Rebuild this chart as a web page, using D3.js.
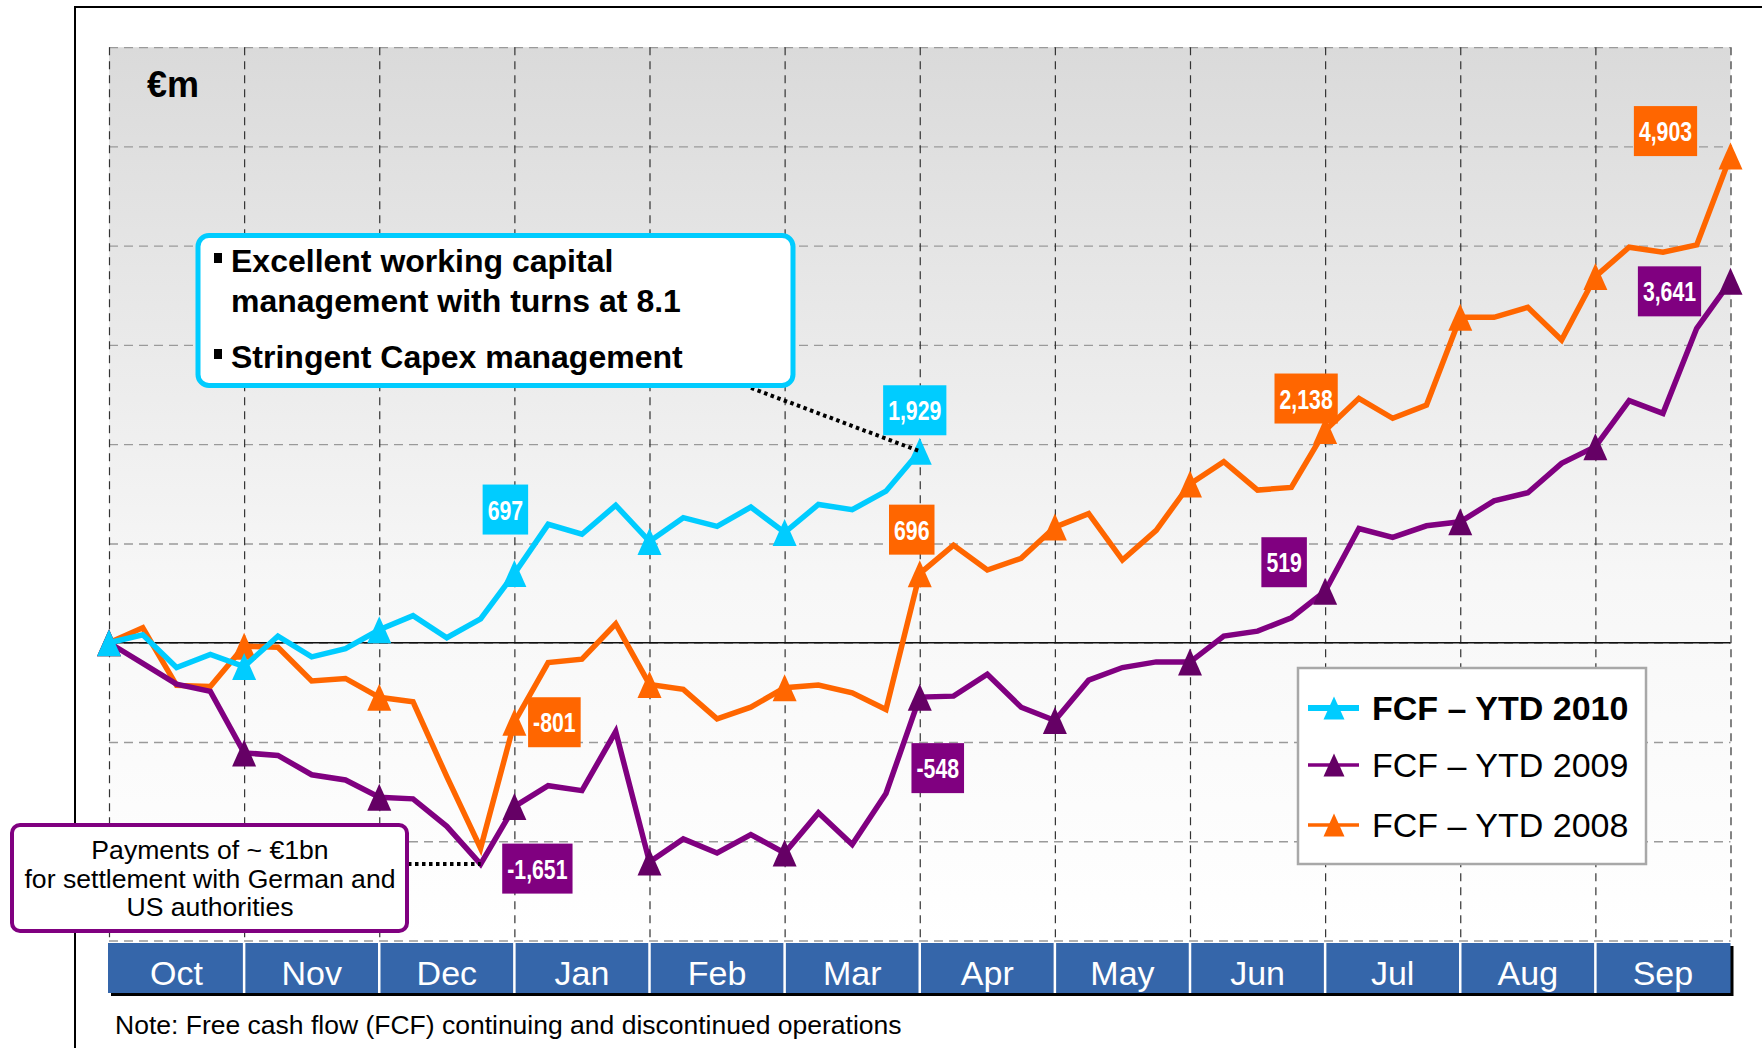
<!DOCTYPE html>
<html>
<head>
<meta charset="utf-8">
<script src="https://cdn.jsdelivr.net/npm/d3@7/dist/d3.min.js"></script>
<style>
  body { margin: 0; background: #fff; }
  svg { display: block; font-family: "Liberation Sans", Arial, sans-serif; }
</style>
</head>
<body>
<div id="chart"></div>
<script>
// ---- data (EUR m, year-to-date free cash flow, ~weekly points, 4 per month) ----
const months = ['Oct', 'Nov', 'Dec', 'Jan', 'Feb', 'Mar', 'Apr', 'May', 'Jun', 'Jul', 'Aug', 'Sep'];

const fcf2010 = [0, 80, -250, -117, -240, 67, -143, -60, 130, 273, 50, 240,
    697, 1193, 1093, 1385, 1020, 1260, 1173, 1367, 1110, 1393, 1340, 1527, 1929];

const fcf2009 = [0, -207, -417, -490, -1110, -1135, -1330, -1383, -1557, -1573, -1850, -2230,
    -1651, -1440, -1490, -895, -2210, -1976, -2118, -1933, -2118, -1714, -2034, -1519,
    -548, -538, -317, -650, -783, -377, -250, -193, -195, 67, 117, 252,
    519, 1151, 1061, 1178, 1218, 1430, 1511, 1807, 1975, 2439, 2311, 3168, 3641];

const fcf2008 = [0, 150, -430, -440, -35, -45, -385, -360, -550, -595, -1350, -2070,
    -801, -200, -165, 190, -420, -470, -766, -649, -454, -427, -504, -672,
    696, 983, 733, 850, 1165, 1300, 833, 1133, 1600, 1824, 1538, 1565,
    2138, 2462, 2261, 2395, 3279, 3279, 3380, 3050, 3689, 3985, 3934, 4008, 4903];

const seriesNames = ['FCF – YTD 2010', 'FCF – YTD 2009', 'FCF – YTD 2008'];
const yTicks = [-3000, -2000, -1000, 0, 1000, 2000, 3000, 4000, 5000, 6000];

// which points carry a value box: series (0=2010,1=2009,2=2008) and point index
const labelSeries = [0, 0, 2, 2, 1, 1, 1, 2, 2, 1];
const labelIndex = [24, 12, 24, 12, 12, 24, 36, 36, 48, 48];

const noteText = 'Note: Free cash flow (FCF) continuing and discontinued operations';
const calloutTop = ['Excellent working capital', 'management with turns at 8.1', 'Stringent Capex management'];
const calloutBottom = ['Payments of ~ €1bn', 'for settlement with German and', 'US authorities'];

// ---- layout ----
const width = 1762;
const height = 1048;
const plotLeft = 109, plotRight = 1730.5, plotTop = 47.2, plotBottom = 940.5;
const colors = ['#00ccff', '#800080', '#ff6600'];
const markerColors = ['#00ccff', '#650065', '#ff6600'];
// offsets of value boxes from their point (same order as labelIndex)
const labelOffset = [[-5, -41], [-9, -64], [-8, -44], [40, 0], [23, 62], [18, 71], [-41, -29], [-19, -32], [-65, -25], [-61, 10]];

const allSeries = [fcf2010, fcf2009, fcf2008];

let x = d3.scaleLinear().domain([0, 48]).range([plotLeft, plotRight]);
let y = d3.scaleLinear().domain([-3000, 6000]).range([plotBottom, plotTop]);
let xMonth = d3.scaleBand().domain(months).range([plotLeft, plotRight]);

let svg = d3.select('#chart').append('svg')
    .attr('width', width)
    .attr('height', height);

let defs = svg.append('defs');
let grad = defs.append('linearGradient')
    .attr('id', 'bg').attr('x1', 0).attr('y1', 0).attr('x2', 0).attr('y2', 1);
grad.append('stop').attr('offset', '0%').attr('stop-color', '#dadada');
grad.append('stop').attr('offset', '60%').attr('stop-color', '#f7f7f7');
grad.append('stop').attr('offset', '100%').attr('stop-color', '#ffffff');

// outer frame (only top and left edges are inside the picture)
svg.append('path')
    .attr('d', `M75,${height}V7H${width}`)
    .attr('fill', 'none')
    .attr('stroke', '#000')
    .attr('stroke-width', 2);

// plot background
svg.append('rect')
    .attr('x', plotLeft).attr('y', plotTop)
    .attr('width', plotRight - plotLeft).attr('height', plotBottom - plotTop)
    .attr('fill', 'url(#bg)');

// horizontal gridlines
let yGrid = svg.append('g')
    .attr('transform', `translate(${plotLeft},0)`)
    .call(d3.axisLeft(y).tickValues(yTicks).tickSize(-(plotRight - plotLeft)).tickFormat(''));
yGrid.select('.domain').remove();
yGrid.selectAll('line')
    .attr('stroke', '#9a9a9a')
    .attr('stroke-width', 1.3)
    .attr('stroke-dasharray', '9,6');

// vertical gridlines at month starts
let xGrid = svg.append('g')
    .attr('transform', `translate(0,${plotTop})`)
    .call(d3.axisBottom(x).tickValues(d3.range(0, 49, 4)).tickSize(plotBottom - plotTop).tickFormat(''));
xGrid.select('.domain').remove();
xGrid.selectAll('line')
    .attr('stroke', '#333')
    .attr('stroke-width', 1.2)
    .attr('stroke-dasharray', '8,6');

// zero line
svg.append('line')
    .attr('x1', plotLeft).attr('x2', plotRight)
    .attr('y1', y(0)).attr('y2', y(0))
    .attr('stroke', '#111')
    .attr('stroke-width', 1.3);

// month band
svg.append('rect')
    .attr('x', plotLeft + 2).attr('y', 946)
    .attr('width', plotRight - plotLeft + 1).attr('height', 50)
    .attr('fill', '#000');
svg.append('rect')
    .attr('x', plotLeft - 1).attr('y', 943)
    .attr('width', plotRight - plotLeft + 1).attr('height', 50)
    .attr('fill', '#3566aa');
svg.append('g').selectAll('line')
    .data(d3.range(4, 48, 4))
    .enter().append('line')
    .attr('x1', d => x(d)).attr('x2', d => x(d))
    .attr('y1', 943).attr('y2', 993)
    .attr('stroke', '#fff')
    .attr('stroke-width', 2.5);
svg.append('g').selectAll('text')
    .data(months)
    .enter().append('text')
    .attr('x', d => xMonth(d) + xMonth.bandwidth() / 2)
    .attr('y', 985)
    .attr('text-anchor', 'middle')
    .attr('fill', '#fff')
    .style('font-size', '34px')
    .text(d => d);

// note
svg.append('text')
    .attr('x', 115).attr('y', 1034)
    .style('font-size', '26.5px')
    .attr('fill', '#000')
    .text(noteText);

// unit
svg.append('text')
    .attr('x', 147).attr('y', 97)
    .style('font-size', '36px')
    .style('font-weight', 'bold')
    .text('€m');

function tri(w, h) {
    return `M0,${-h / 2}L${w / 2},${h / 2}L${-w / 2},${h / 2}Z`;
}

let line = d3.line()
    .x((d, i) => x(i))
    .y(d => y(d));

// draw 2008 first, 2010 on top
[2, 1, 0].forEach(s => {
    let data = allSeries[s];
    let g = svg.append('g');
    g.append('path')
        .datum(data)
        .attr('d', line)
        .attr('fill', 'none')
        .attr('stroke', colors[s])
        .attr('stroke-width', 5.5)
        .attr('stroke-linejoin', 'miter');
    g.selectAll('path.mark')
        .data(data.map((v, i) => [i, v]).filter(d => d[0] % 4 === 0))
        .enter().append('path')
        .attr('class', 'mark')
        .attr('d', tri(24, 27))
        .attr('transform', d => `translate(${x(d[0])},${y(d[1])})`)
        .attr('fill', markerColors[s]);
});

// callout (top)
svg.append('line')
    .attr('x1', 751).attr('y1', 388)
    .attr('x2', x(24)).attr('y2', y(fcf2010[24]))
    .attr('stroke', '#000').attr('stroke-width', 4)
    .attr('stroke-dasharray', '3.5,3.5');
svg.append('rect')
    .attr('x', 198).attr('y', 235.5)
    .attr('width', 595).attr('height', 150)
    .attr('rx', 11)
    .attr('fill', '#fff')
    .attr('stroke', '#00ccff')
    .attr('stroke-width', 5);
let calloutY = [272, 312, 368];
svg.append('g').selectAll('text')
    .data(calloutTop)
    .enter().append('text')
    .attr('x', 231)
    .attr('y', (d, i) => calloutY[i])
    .style('font-size', '32px')
    .style('font-weight', 'bold')
    .text(d => d);
svg.append('g').selectAll('rect')
    .data([0, 2])
    .enter().append('rect')
    .attr('x', 214).attr('y', d => calloutY[d] - 19)
    .attr('width', 8).attr('height', 10)
    .attr('fill', '#000');

// callout (bottom)
svg.append('line')
    .attr('x1', 408).attr('y1', y(fcf2009[11]))
    .attr('x2', x(11)).attr('y2', y(fcf2009[11]))
    .attr('stroke', '#000').attr('stroke-width', 4)
    .attr('stroke-dasharray', '3.5,3.5');
svg.append('rect')
    .attr('x', 12).attr('y', 825)
    .attr('width', 395).attr('height', 106)
    .attr('rx', 8)
    .attr('fill', '#fff')
    .attr('stroke', '#800080')
    .attr('stroke-width', 4);
svg.append('g').selectAll('text')
    .data(calloutBottom)
    .enter().append('text')
    .attr('x', 210)
    .attr('y', (d, i) => 859 + i * 28.5)
    .attr('text-anchor', 'middle')
    .style('font-size', '26.6px')
    .text(d => d);

// value boxes (plain hyphen for negatives, as in the source)
let fmt = v => d3.format(',')(v).replace('−', '-');
labelIndex.forEach((idx, k) => {
    let s = labelSeries[k];
    let v = allSeries[s][idx];
    let cx = x(idx) + labelOffset[k][0];
    let cy = y(v) + labelOffset[k][1];
    let g = svg.append('g').attr('transform', `translate(${cx},${cy})`);
    let r = g.append('rect').attr('fill', colors[s]);
    let t = g.append('text')
        .attr('text-anchor', 'middle')
        .attr('y', 10)
        .attr('transform', 'scale(0.76,1)')
        .attr('fill', '#fff')
        .style('font-size', '28px')
        .style('font-weight', 'bold')
        .text(fmt(v));
    let w = t.node().getComputedTextLength() * 0.76 + 10;
    r.attr('x', -w / 2).attr('y', -25).attr('width', w).attr('height', 50);
});

// legend
let legend = svg.append('g');
legend.append('rect')
    .attr('x', 1298).attr('y', 668)
    .attr('width', 348).attr('height', 196)
    .attr('fill', '#fff')
    .attr('stroke', '#a8a8a8')
    .attr('stroke-width', 2.5);
let legendY = [708, 765, 825];
seriesNames.forEach((name, i) => {
    legend.append('line')
        .attr('x1', 1308).attr('x2', 1359)
        .attr('y1', legendY[i]).attr('y2', legendY[i])
        .attr('stroke', colors[i])
        .attr('stroke-width', i === 0 ? 6 : 3.5);
    legend.append('path')
        .attr('d', tri(21, 23))
        .attr('transform', `translate(1334,${legendY[i]})`)
        .attr('fill', markerColors[i]);
    legend.append('text')
        .attr('x', 1372).attr('y', legendY[i] + 12)
        .style('font-size', '34px')
        .style('font-weight', i === 0 ? 'bold' : 'normal')
        .text(name);
});
</script>
</body>
</html>
